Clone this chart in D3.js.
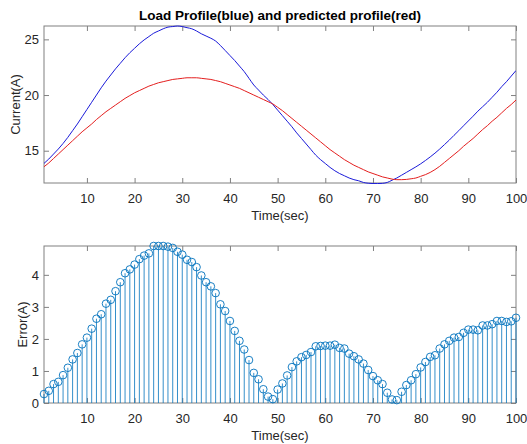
<!DOCTYPE html>
<html><head><meta charset="utf-8">
<script src="https://cdn.jsdelivr.net/npm/d3@7"></script>
<style>
html,body{margin:0;padding:0;background:#fff;}
svg text{font-family:"Liberation Sans",Arial,Helvetica,sans-serif;}
</style></head>
<body>
<svg id="c" width="527" height="444"></svg>
<script>
// ---- data ----
const time = d3.range(1, 101);
const loadProfile = [13.86,14.25,14.7,15.15,15.65,16.2,16.8,17.4,18.05,18.7,
 19.35,20.0,20.65,21.25,21.8,22.35,22.85,23.35,23.8,24.2,
 24.6,24.95,25.25,25.55,25.75,25.95,26.1,26.15,26.2,26.15,
 26.05,25.95,25.75,25.5,25.3,25.1,24.85,24.45,24.0,23.55,
 23.1,22.6,22.1,21.5,20.9,20.45,20.0,19.6,19.15,18.65,
 18.15,17.65,17.15,16.6,16.1,15.6,15.1,14.6,14.2,13.85,
 13.5,13.2,12.95,12.75,12.55,12.4,12.3,12.15,12.08,12.05,
 12.05,12.07,12.15,12.35,12.55,12.8,13.05,13.3,13.55,13.82,
 14.12,14.44,14.78,15.15,15.55,15.95,16.38,16.8,17.24,17.67,
 18.1,18.55,18.95,19.35,19.8,20.25,20.75,21.2,21.7,22.2];
const predictedProfile = [13.56,13.9,14.3,14.7,15.1,15.5,15.9,16.3,16.7,17.05,
 17.4,17.8,18.15,18.5,18.8,19.1,19.4,19.7,19.95,20.2,
 20.4,20.6,20.8,20.95,21.1,21.2,21.3,21.4,21.45,21.5,
 21.55,21.55,21.55,21.5,21.45,21.4,21.3,21.2,21.05,20.9,
 20.75,20.6,20.4,20.2,20.0,19.8,19.6,19.4,19.2,18.9,
 18.6,18.25,17.9,17.55,17.2,16.85,16.5,16.15,15.8,15.45,
 15.1,14.8,14.5,14.2,13.95,13.7,13.5,13.3,13.1,12.95,
 12.8,12.65,12.55,12.45,12.4,12.4,12.42,12.48,12.55,12.7,
 12.85,13.05,13.3,13.6,13.95,14.3,14.65,15.0,15.4,15.75,
 16.1,16.5,16.9,17.25,17.65,18.0,18.4,18.8,19.15,19.55];
const errorValues = [0.28,0.38,0.59,0.66,0.87,1.10,1.36,1.56,1.83,2.04,
 2.32,2.63,2.77,3.10,3.22,3.49,3.77,4.05,4.17,4.32,
 4.49,4.60,4.67,4.90,4.90,4.90,4.88,4.84,4.72,4.63,
 4.47,4.40,4.24,3.98,3.77,3.64,3.43,3.08,2.87,2.56,
 2.25,1.94,1.67,1.34,0.94,0.74,0.43,0.20,0.12,0.42,
 0.61,0.86,1.12,1.30,1.43,1.50,1.59,1.77,1.78,1.79,
 1.79,1.82,1.72,1.70,1.54,1.46,1.36,1.23,1.03,0.84,
 0.71,0.59,0.32,0.11,0.09,0.35,0.56,0.71,0.90,1.11,
 1.28,1.44,1.49,1.70,1.83,1.94,2.04,2.06,2.19,2.29,
 2.29,2.27,2.42,2.42,2.46,2.56,2.56,2.53,2.55,2.66];
const xTicks = [10,20,30,40,50,60,70,80,90,100];
const yTicksTop = [15,20,25];
const yTicksBottom = [0,1,2,3,4];
const xLimits = [1,100];
const yLimitsTop = [12.1,26.2];
const yLimitsBottom = [0,4.9];
const titleText = "Load Profile(blue) and predicted profile(red)";
const xLabelText = "Time(sec)";
const yLabelTop = "Current(A)";
const yLabelBottom = "Error(A)";

// ---- drawing ----
const svg = d3.select("#c");
const L = 44, R = 516;
const top1 = 26, bot1 = 183, top2 = 246, bot2 = 403;
const axisColor = "#808080", textColor = "#262626", tickLen = 5, fs = "13px";

const x = d3.scaleLinear().domain(xLimits).range([L, R]);
const y1 = d3.scaleLinear().domain(yLimitsTop).range([bot1, top1]);
const y2 = d3.scaleLinear().domain(yLimitsBottom).range([bot2, top2]);

function frame(yScale, yTicks, top, bot, ylabel, labelX) {
  const g = svg.append("g");
  const ax = g.append("g").attr("transform", `translate(0,${bot})`)
    .call(d3.axisBottom(x).tickValues(xTicks).tickSize(-tickLen).tickPadding(11).tickSizeOuter(0));
  const axT = g.append("g").attr("transform", `translate(0,${top})`)
    .call(d3.axisTop(x).tickValues(xTicks).tickSize(-tickLen).tickFormat("").tickSizeOuter(0));
  const ay = g.append("g").attr("transform", `translate(${L},0)`)
    .call(d3.axisLeft(yScale).tickValues(yTicks).tickFormat(d3.format("d")).tickSize(-tickLen).tickPadding(5).tickSizeOuter(0));
  const ayR = g.append("g").attr("transform", `translate(${R},0)`)
    .call(d3.axisRight(yScale).tickValues(yTicks).tickSize(-tickLen).tickFormat("").tickSizeOuter(0));
  [ax, axT, ay, ayR].forEach(a => {
    a.select(".domain").remove();
    a.selectAll("line").attr("stroke", axisColor).attr("stroke-width", 1);
    a.selectAll("text").attr("fill", textColor).style("font-size", fs);
  });
  g.append("rect").attr("x", L).attr("y", top).attr("width", R - L).attr("height", bot - top)
    .attr("fill", "none").attr("stroke", axisColor).attr("stroke-width", 1);
  g.append("text").attr("x", (L + R) / 2).attr("y", bot + 37).attr("text-anchor", "middle")
    .attr("fill", textColor).style("font-size", fs).text(xLabelText);
  g.append("text").attr("transform", `translate(${labelX},${(top + bot) / 2}) rotate(-90)`)
    .attr("text-anchor", "middle").attr("dy", "0.35em").attr("fill", textColor).style("font-size", fs).text(ylabel);
  return g;
}

// Top panel
frame(y1, yTicksTop, top1, bot1, yLabelTop, 15);
const line1 = d3.line().curve(d3.curveMonotoneX).x((d, i) => x(time[i])).y(d => y1(d));
svg.append("clipPath").attr("id", "clip1").append("rect")
  .attr("x", L).attr("y", top1 - 1).attr("width", R - L).attr("height", bot1 - top1 + 2);
svg.append("path").datum(loadProfile).attr("d", line1).attr("fill", "none")
  .attr("stroke", "#1a1ad9").attr("stroke-width", 1).attr("clip-path", "url(#clip1)");
svg.append("path").datum(predictedProfile).attr("d", line1).attr("fill", "none")
  .attr("stroke", "#e41e1e").attr("stroke-width", 1).attr("clip-path", "url(#clip1)");
svg.append("text").attr("x", (L + R) / 2).attr("y", 20).attr("text-anchor", "middle")
  .attr("fill", "#000").style("font-size", "13.5px").style("font-weight", "bold").text(titleText);

// Bottom panel
frame(y2, yTicksBottom, top2, bot2, yLabelBottom, 22);
const stemColor = "#0072BD";
const sg = svg.append("g");
sg.selectAll("line.stem").data(errorValues).join("line").attr("class", "stem")
  .attr("x1", (d, i) => x(time[i])).attr("x2", (d, i) => x(time[i]))
  .attr("y1", y2(0)).attr("y2", d => y2(d))
  .attr("stroke", stemColor).attr("stroke-width", 0.8);
sg.selectAll("circle").data(errorValues).join("circle")
  .attr("cx", (d, i) => x(time[i])).attr("cy", d => y2(d)).attr("r", 3.8)
  .attr("fill", "none").attr("stroke", stemColor).attr("stroke-width", 0.9);
</script>
</body></html>
